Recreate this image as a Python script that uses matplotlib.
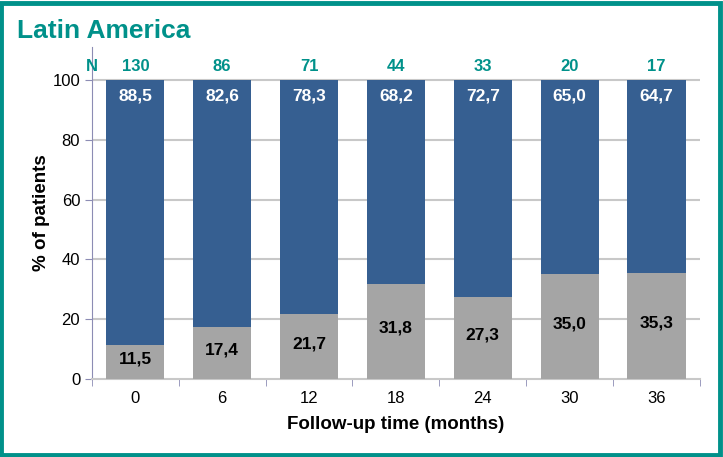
import matplotlib
matplotlib.use('Agg')
import matplotlib.pyplot as plt
from matplotlib.patches import Rectangle
import numpy as np

plt.rcParams['font.family'] = ['Liberation Sans', 'DejaVu Sans']

months = ['0', '6', '12', '18', '24', '30', '36']
n_patients = [130, 86, 71, 44, 33, 20, 17]
lower = [11.5, 17.4, 21.7, 31.8, 27.3, 35.0, 35.3]
upper = [88.5, 82.6, 78.3, 68.2, 72.7, 65.0, 64.7]

teal = '#00918A'
blue = '#365F91'
grey = '#A5A5A5'

fig = plt.figure(figsize=(7.23, 4.57), dpi=100)
ax = fig.add_axes([0.1272, 0.1707, 0.8408, 0.7263])

x = np.arange(len(months))
ax.bar(x, lower, width=0.67, color=grey, zorder=3)
ax.bar(x, upper, width=0.67, bottom=lower, color=blue, zorder=3)

for i in range(len(months)):
    ax.text(x[i], lower[i] / 2 + 1, f'{lower[i]:.1f}'.replace('.', ','),
            ha='center', va='center', fontsize=12.5, fontweight='bold', color='black', zorder=4)
    ax.text(x[i], 100 - 5.5, f'{upper[i]:.1f}'.replace('.', ','),
            ha='center', va='center', fontsize=12.5, fontweight='bold', color='white', zorder=4)
    ax.text(x[i], 104.5, str(n_patients[i]), ha='center', va='center',
            fontsize=12, fontweight='bold', color=teal)
ax.text(-0.5, 104.5, 'N', ha='center', va='center', fontsize=12, fontweight='bold', color=teal)

ax.set_xlim(-0.5, len(months) - 0.5)
ax.set_ylim(0, 111)
ax.set_yticks([0, 20, 40, 60, 80, 100])
ax.set_xticks(x)
ax.set_xticklabels(months)
ax.set_xticks(np.arange(-0.5, len(months)), minor=True)
ax.tick_params(axis='x', which='major', length=0, labelsize=12, pad=9)
ax.tick_params(axis='x', which='minor', length=5, color='#8C8CB4', direction='out')
ax.tick_params(axis='y', length=5, color='#8C8CB4', labelsize=12, direction='out')

for y in [20, 40, 60, 80, 100]:
    ax.axhline(y, color='#C8C8C8', lw=1.5, zorder=1)

for s in ['top', 'right']:
    ax.spines[s].set_visible(False)
ax.spines['left'].set_color('#8C8CB4')
ax.spines['bottom'].set_color('#C8C8C8')
ax.spines['bottom'].set_linewidth(1.5)

ax.set_ylabel('% of patients', fontsize=13.5, fontweight='bold', labelpad=2)
ax.set_xlabel('Follow-up time (months)', fontsize=13.5, fontweight='bold', labelpad=7)

fig.text(0.024, 0.932, 'Latin America', fontsize=19, fontweight='bold', color=teal,
         ha='left', va='center')

fig.patches.append(Rectangle((0.002, 0.004), 0.994, 0.99, transform=fig.transFigure,
                             fill=False, edgecolor=teal, linewidth=3.5))

fig.savefig('out.png', dpi=100)
